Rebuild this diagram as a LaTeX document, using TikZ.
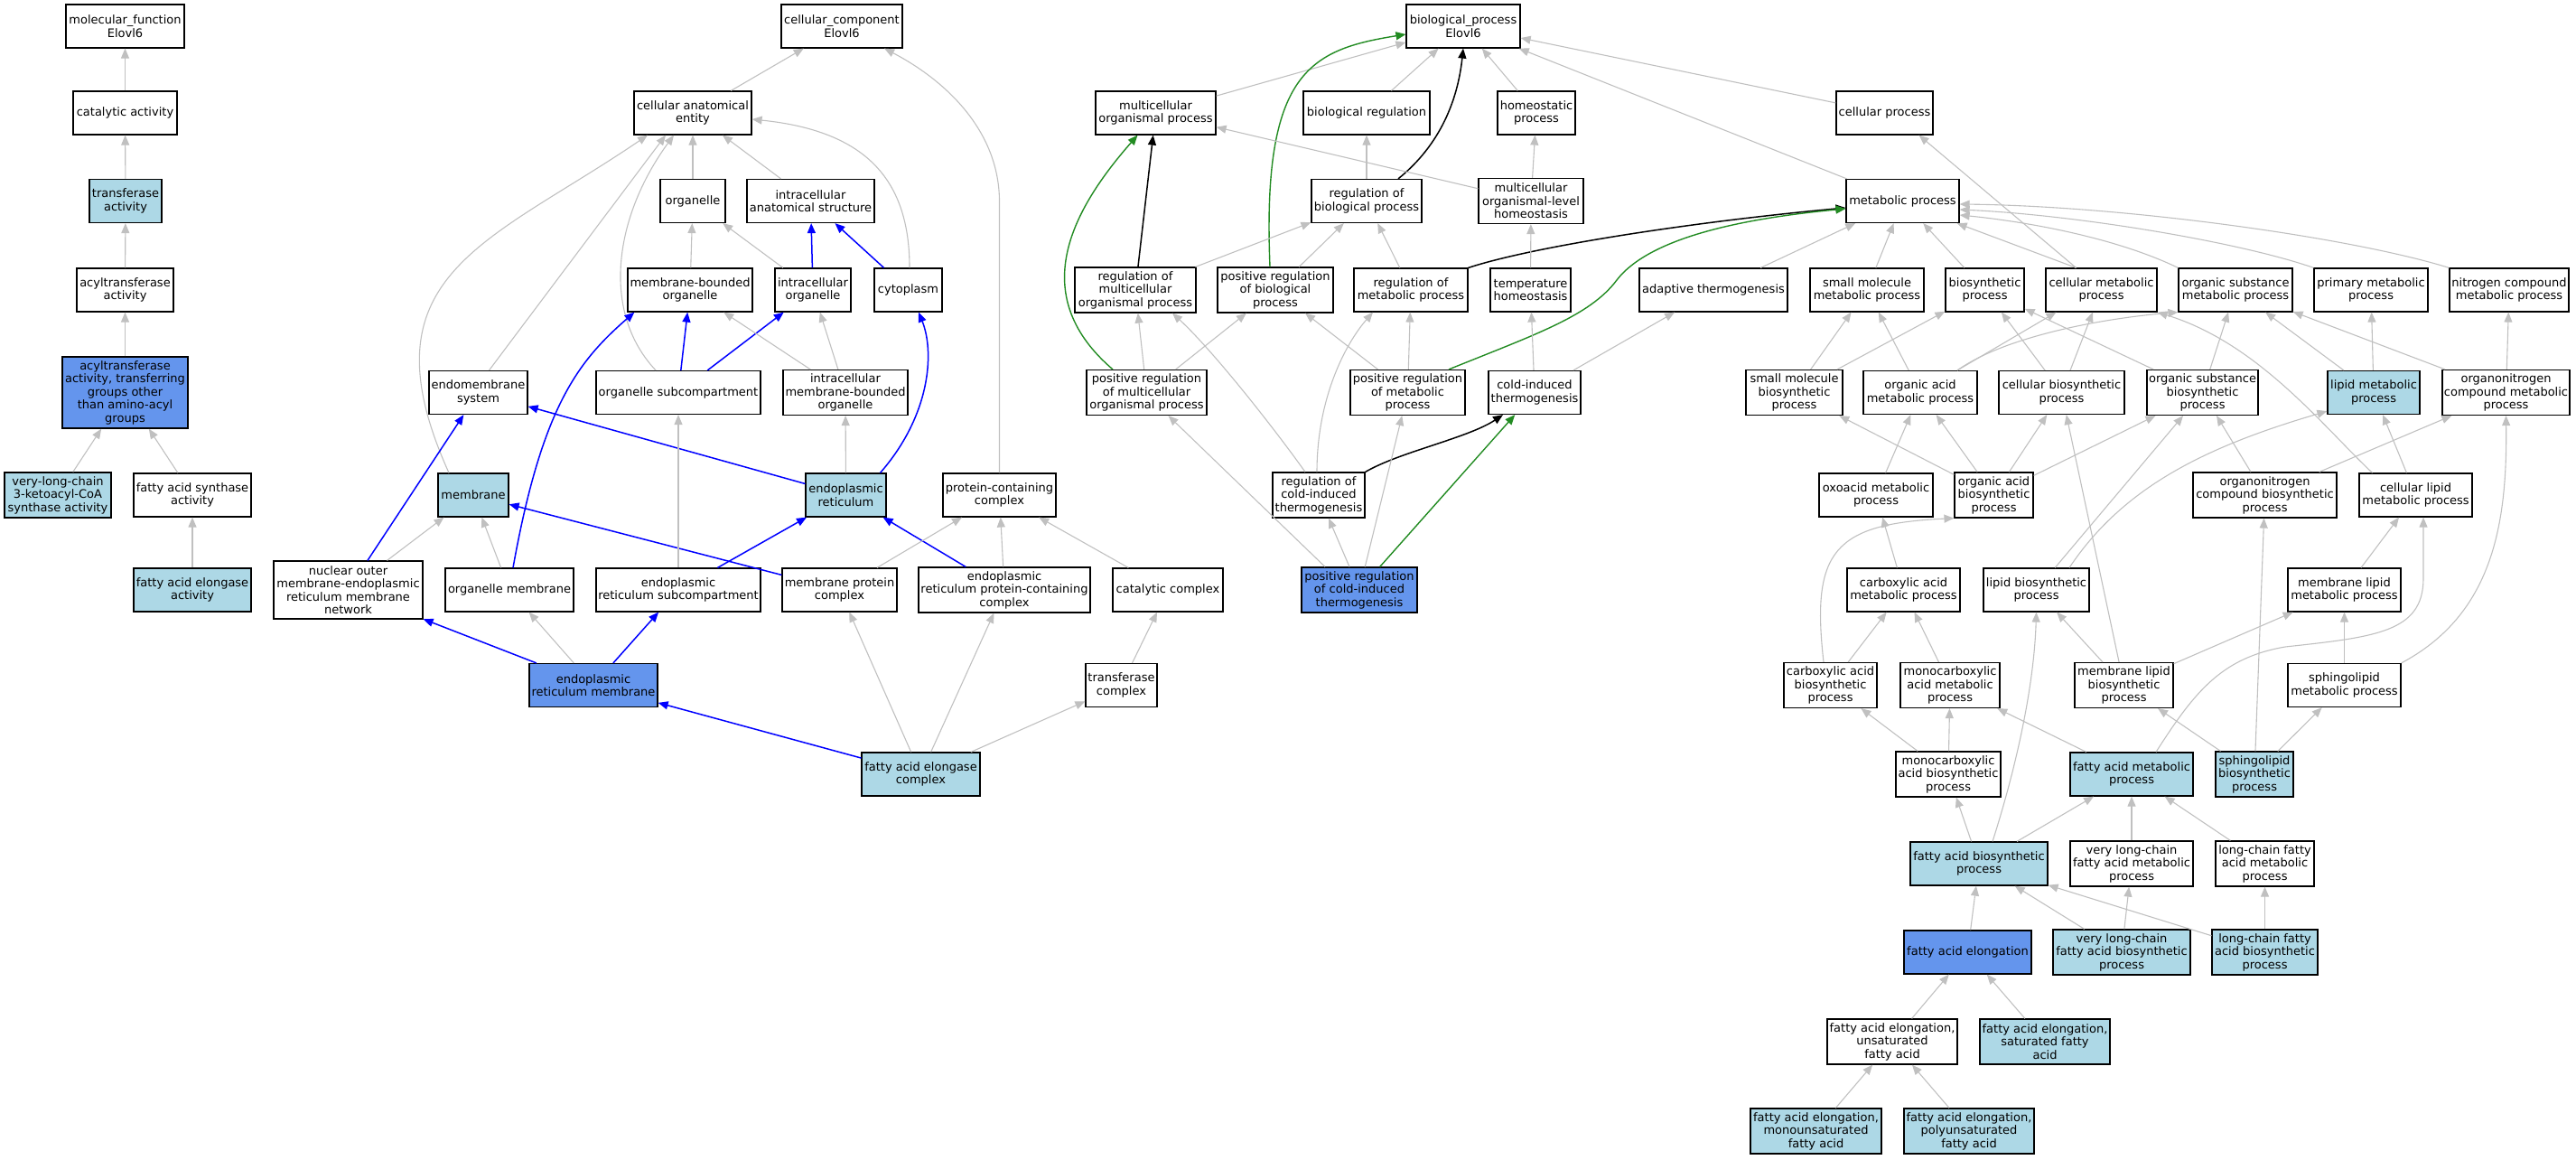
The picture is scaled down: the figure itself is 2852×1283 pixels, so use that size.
\documentclass[tikz,border=0pt]{standalone}
\usepackage{fontspec}
\setmainfont{DejaVu Sans}
\usetikzlibrary{arrows.meta}
\definecolor{golightblue}{HTML}{ADD8E6}
\definecolor{gocornflower}{HTML}{6495ED}
\definecolor{isagray}{HTML}{C0C0C0}
\definecolor{goforest}{HTML}{228B22}
\newcommand{\gofont}{\fontsize{13}{14.5}\selectfont}
\tikzset{
  term/.style={draw=black,line width=1.2pt,fill=white,rectangle,align=center,inner sep=0pt,minimum height=48pt,font=\gofont},
  hit/.style={term,fill=golightblue},
  seed/.style={term,fill=gocornflower},
  isa/.style={draw=isagray,line width=1.1pt,->},
  partof/.style={draw=blue,line width=1.5pt,->},
  regulates/.style={draw=black,line width=1.5pt,->},
  posreg/.style={draw=goforest,line width=1.4pt,->}
}

\begin{document}
\begin{tikzpicture}[x=1pt,y=-1pt,>={Triangle[length=11pt,width=9pt]}]
\useasboundingbox (0,0) rectangle (2852,1283);

\node[term,minimum width=131pt] (mf) at (138.5,29) {molecular\_function\\Elovl6};
\node[term,minimum width=115pt] (catact) at (138.5,125) {catalytic activity};
\node[hit,minimum width=80pt] (transact) at (139,222.5) {transferase\\activity};
\node[term,minimum width=107pt] (acylact) at (138.5,321) {acyltransferase\\activity};
\node[seed,minimum width=139pt,minimum height=79pt] (acylgrp) at (138.5,434.5) {acyltransferase\\activity, transferring\\groups other\\than amino-acyl\\groups};
\node[hit,minimum width=118pt,minimum height=50pt] (vlcsynth) at (64,548) {very-long-chain\\3-ketoacyl-CoA\\synthase activity};
\node[term,minimum width=130pt] (fasynth) at (213,548) {fatty acid synthase\\activity};
\node[hit,minimum width=130pt] (faelact) at (213,653) {fatty acid elongase\\activity};

\node[term,minimum width=134pt] (cc) at (932,29) {cellular\_component\\Elovl6};
\node[term,minimum width=130pt] (cae) at (767,125) {cellular anatomical\\entity};
\node[term,minimum width=72pt] (organelle) at (767,222.5) {organelle};
\node[term,minimum width=141pt] (ias) at (897.5,222.5) {intracellular\\anatomical structure};
\node[term,minimum width=138pt] (mbo) at (764,321) {membrane-bounded\\organelle};
\node[term,minimum width=84pt] (io) at (900,321) {intracellular\\organelle};
\node[term,minimum width=75pt] (cyto) at (1005.5,321) {cytoplasm};
\node[term,minimum width=109pt] (endo) at (529.5,434.5) {endomembrane\\system};
\node[term,minimum width=182pt] (osub) at (751,434.5) {organelle subcompartment};
\node[term,minimum width=138pt,minimum height=50pt] (imbo) at (936,434.5) {intracellular\\membrane-bounded\\organelle};
\node[hit,minimum width=78pt] (membrane) at (524,548) {membrane};
\node[hit,minimum width=89pt] (er) at (936.5,548) {endoplasmic\\reticulum};
\node[term,minimum width=125pt] (pcc) at (1106.5,548) {protein-containing\\complex};
\node[term,minimum width=165pt,minimum height=64pt] (nuc) at (385.5,653) {nuclear outer\\membrane-endoplasmic\\reticulum membrane\\network};
\node[term,minimum width=142pt] (orgmem) at (564,653) {organelle membrane};
\node[term,minimum width=182pt] (ersub) at (751,653) {endoplasmic\\reticulum subcompartment};
\node[term,minimum width=127pt] (mpc) at (929.5,653) {membrane protein\\complex};
\node[term,minimum width=190pt,minimum height=50pt] (erpcc) at (1112,653) {endoplasmic\\reticulum protein-containing\\complex};
\node[term,minimum width=122pt] (catcx) at (1293,653) {catalytic complex};
\node[seed,minimum width=142pt] (ermem) at (657,758.5) {endoplasmic\\reticulum membrane};
\node[term,minimum width=79pt] (trcx) at (1241.5,758.5) {transferase\\complex};
\node[hit,minimum width=131pt] (faecx) at (1019.5,857) {fatty acid elongase\\complex};

\node[term,minimum width=126pt] (bp) at (1620,29) {biological\_process\\Elovl6};
\node[term,minimum width=133pt] (mop) at (1279.5,125) {multicellular\\organismal process};
\node[term,minimum width=140pt] (breg) at (1513,125) {biological regulation};
\node[term,minimum width=86pt] (homeo) at (1701,125) {homeostatic\\process};
\node[term,minimum width=107pt] (cellproc) at (2086.5,125) {cellular process};
\node[term,minimum width=122pt] (rbp) at (1513,222.5) {regulation of\\biological process};
\node[term,minimum width=116pt,minimum height=50pt] (molh) at (1695,222.5) {multicellular\\organismal-level\\homeostasis};
\node[term,minimum width=125pt] (metab) at (2106.5,222.5) {metabolic process};
\node[term,minimum width=134pt,minimum height=50pt] (rmop) at (1257,321) {regulation of\\multicellular\\organismal process};
\node[term,minimum width=128pt,minimum height=50pt] (prbp) at (1412,321) {positive regulation\\of biological\\process};
\node[term,minimum width=126pt] (rmp) at (1562,321) {regulation of\\metabolic process};
\node[term,minimum width=89pt] (temph) at (1694.5,321) {temperature\\homeostasis};
\node[term,minimum width=164pt] (adapt) at (1897,321) {adaptive thermogenesis};
\node[term,minimum width=126pt] (smmp) at (2067,321) {small molecule\\metabolic process};
\node[term,minimum width=87pt] (biosyn) at (2197.5,321) {biosynthetic\\process};
\node[term,minimum width=123pt] (cellmet) at (2326.5,321) {cellular metabolic\\process};
\node[term,minimum width=126pt] (osmp) at (2475,321) {organic substance\\metabolic process};
\node[term,minimum width=126pt] (primp) at (2625,321) {primary metabolic\\process};
\node[term,minimum width=132pt] (ncmp) at (2778,321) {nitrogen compound\\metabolic process};
\node[term,minimum width=133pt,minimum height=50pt] (prmop) at (1269.5,434.5) {positive regulation\\of multicellular\\organismal process};
\node[term,minimum width=127pt,minimum height=50pt] (prmp) at (1558.5,434.5) {positive regulation\\of metabolic\\process};
\node[term,minimum width=102pt] (cit) at (1699,434.5) {cold-induced\\thermogenesis};
\node[term,minimum width=107pt,minimum height=50pt] (smbp) at (1986.5,434.5) {small molecule\\biosynthetic\\process};
\node[term,minimum width=126pt] (oamp) at (2126,434.5) {organic acid\\metabolic process};
\node[term,minimum width=139pt] (cbp) at (2282.5,434.5) {cellular biosynthetic\\process};
\node[term,minimum width=123pt,minimum height=50pt] (osbp) at (2438.5,434.5) {organic substance\\biosynthetic\\process};
\node[hit,minimum width=102pt] (lmp) at (2628,434.5) {lipid metabolic\\process};
\node[term,minimum width=141pt,minimum height=50pt] (oncmp) at (2774.5,434.5) {organonitrogen\\compound metabolic\\process};
\node[term,minimum width=102pt,minimum height=50pt] (rcit) at (1460,548) {regulation of\\cold-induced\\thermogenesis};
\node[term,minimum width=126pt] (oxmp) at (2077,548) {oxoacid metabolic\\process};
\node[term,minimum width=87pt,minimum height=50pt] (oabp) at (2207.5,548) {organic acid\\biosynthetic\\process};
\node[term,minimum width=159pt,minimum height=50pt] (oncbp) at (2507.5,548) {organonitrogen\\compound biosynthetic\\process};
\node[term,minimum width=125pt] (clmp) at (2674.5,548) {cellular lipid\\metabolic process};
\node[seed,minimum width=128pt,minimum height=50pt] (prcit) at (1505,653) {positive regulation\\of cold-induced\\thermogenesis};
\node[term,minimum width=125pt] (camp) at (2107.5,653) {carboxylic acid\\metabolic process};
\node[term,minimum width=117pt] (lbp) at (2254.5,653) {lipid biosynthetic\\process};
\node[term,minimum width=125pt] (mlmp) at (2595.5,653) {membrane lipid\\metabolic process};
\node[term,minimum width=103pt,minimum height=50pt] (cabp) at (2026.5,758.5) {carboxylic acid\\biosynthetic\\process};
\node[term,minimum width=110pt,minimum height=50pt] (mcamp) at (2159,758.5) {monocarboxylic\\acid metabolic\\process};
\node[term,minimum width=109pt,minimum height=50pt] (mlbp) at (2351.5,758.5) {membrane lipid\\biosynthetic\\process};
\node[term,minimum width=125pt] (splmp) at (2595.5,758.5) {sphingolipid\\metabolic process};
\node[term,minimum width=116pt,minimum height=50pt] (mcabp) at (2157,857) {monocarboxylic\\acid biosynthetic\\process};
\node[hit,minimum width=136pt] (famp) at (2360,857) {fatty acid metabolic\\process};
\node[hit,minimum width=86pt,minimum height=50pt] (splbp) at (2496,857) {sphingolipid\\biosynthetic\\process};
\node[hit,minimum width=152pt] (fabp) at (2191,956) {fatty acid biosynthetic\\process};
\node[term,minimum width=136pt,minimum height=50pt] (vlcfamp) at (2360,956) {very long-chain\\fatty acid metabolic\\process};
\node[term,minimum width=109pt,minimum height=50pt] (lcfamp) at (2507.5,956) {long-chain fatty\\acid metabolic\\process};
\node[seed,minimum width=141pt] (fae) at (2178.5,1054) {fatty acid elongation};
\node[hit,minimum width=152pt,minimum height=50pt] (vlcfabp) at (2349,1054) {very long-chain\\fatty acid biosynthetic\\process};
\node[hit,minimum width=117pt,minimum height=50pt] (lcfabp) at (2507.5,1054) {long-chain fatty\\acid biosynthetic\\process};
\node[term,minimum width=144pt,minimum height=50pt] (faeu) at (2095,1153) {fatty acid elongation,\\unsaturated\\fatty acid};
\node[hit,minimum width=144pt,minimum height=50pt] (faes) at (2264,1153) {fatty acid elongation,\\saturated fatty\\acid};
\node[hit,minimum width=145pt,minimum height=50pt] (faemu) at (2010.5,1252) {fatty acid elongation,\\monounsaturated\\fatty acid};
\node[hit,minimum width=144pt,minimum height=50pt] (faepu) at (2180,1252) {fatty acid elongation,\\polyunsaturated\\fatty acid};

\draw[isa] (catact) -- (mf);
\draw[isa] (transact) -- (catact);
\draw[isa] (acylact) -- (transact);
\draw[isa] (acylgrp) -- (acylact);
\draw[isa] (vlcsynth) -- (acylgrp);
\draw[isa] (fasynth) -- (acylgrp);
\draw[isa] (faelact) -- (fasynth);

\draw[isa] (cae) -- (cc);
\draw[isa] (pcc.north) -- ++(0,-300) .. controls +(0,-80) and (1045,88) .. (cc);
\draw[isa] (organelle) -- (cae);
\draw[isa] (ias) -- (cae);
\draw[isa] ([xshift=1.5pt]cyto.north) .. controls (1007,200) and (960,145) .. ([yshift=-7pt]cae.east);
\draw[isa] ([xshift=12pt]endo.north) -- ([xshift=-30pt]cae.south);
\draw[isa] ([xshift=-27pt]membrane.north) .. controls (398,304) and (540,270) .. ([xshift=-50pt]cae.south);
\draw[isa] ([xshift=-25pt]osub.north) .. controls (665,345) and (680,240) .. ([xshift=-21pt]cae.south);
\draw[isa] (mbo) -- (organelle);
\draw[isa] (io) -- (organelle);
\draw[partof] (io) -- (ias);
\draw[partof] (cyto) -- (ias);
\draw[partof] (osub) -- (mbo);
\draw[partof] (osub) -- (io);
\draw[isa] (imbo) -- (mbo);
\draw[isa] (imbo) -- (io);
\draw[partof] ([xshift=4pt]orgmem.north) .. controls (600,450) and (640,400) .. ([xshift=8pt]mbo.south west);
\draw[isa] (er) -- (imbo);
\draw[partof] ([xshift=38pt]er.north) .. controls (1030,460) and (1035,390) .. ([xshift=11.5pt]cyto.south);
\draw[partof] (er) -- (endo);
\draw[partof] (nuc) -- (endo);
\draw[isa] (nuc) -- (membrane);
\draw[isa] (orgmem) -- (membrane);
\draw[partof] (mpc) -- (membrane);
\draw[isa] (ersub) -- (osub);
\draw[partof] (ersub) -- (er);
\draw[partof] (erpcc) -- (er);
\draw[isa] (mpc) -- (pcc);
\draw[isa] (erpcc) -- (pcc);
\draw[isa] (catcx) -- (pcc);
\draw[partof] (ermem) -- (nuc);
\draw[isa] (ermem) -- (orgmem);
\draw[partof] (ermem) -- (ersub);
\draw[isa] (trcx) -- (catcx);
\draw[partof] (faecx) -- (ermem);
\draw[isa] (faecx) -- (mpc);
\draw[isa] (faecx) -- (erpcc);
\draw[isa] (faecx) -- (trcx);

\draw[isa] (mop) -- (bp);
\draw[isa] (breg) -- (bp);
\draw[isa] (homeo) -- (bp);
\draw[isa] (cellproc) -- (bp);
\draw[isa] (metab) -- (bp);
\draw[regulates] ([xshift=35pt]rbp.north) .. controls (1595,160) and (1614,110) .. (bp.south);
\draw[posreg] ([xshift=-6pt]prbp.north) .. controls (1397,80) and (1450,55) .. ([yshift=-9pt]bp.west);
\draw[isa] (rbp) -- (breg);
\draw[isa] (molh) -- (mop);
\draw[isa] (molh) -- (homeo);
\draw[regulates] (rmop) -- (mop);
\draw[posreg] ([xshift=-37.5pt]prmop.north) .. controls (1140,330) and (1180,240) .. ([xshift=-20pt]mop.south);
\draw[isa] (rmop) -- (rbp);
\draw[isa] (prbp) -- (rbp);
\draw[isa] (rmp) -- (rbp);
\draw[regulates] (rmp.north east) .. controls (1700,272) and (1880,245) .. ([yshift=-7.5pt]metab.west);
\draw[isa] (temph) -- (molh);
\draw[isa] (prmop) -- (rmop);
\draw[isa] (prmop) -- (prbp);
\draw[isa] (prmp) -- (prbp);
\draw[isa] (prmp) -- (rmp);
\draw[posreg] ([xshift=45.5pt]prmp.north) .. controls (1700,370) and (1760,350) .. (1790,310) .. controls (1830,258) and (1950,240) .. ([yshift=-8.5pt]metab.west);
\draw[isa] (cit) -- (temph);
\draw[isa] (cit) -- (adapt);
\draw[isa] ([xshift=-15pt]rcit.north) .. controls (1415,480) and (1345,390) .. ([xshift=41pt]rmop.south);
\draw[isa] ([xshift=-2pt]rcit.north) .. controls (1458,440) and (1490,380) .. ([xshift=-42pt]rmp.south);
\draw[regulates] (rcit.north east) .. controls (1550,500) and (1625,485) .. ([xshift=-35pt]cit.south);
\draw[isa] ([xshift=-38pt]prcit.north) -- ([xshift=24pt]prmop.south);
\draw[isa] (prcit) -- (rcit);
\draw[isa] (prcit) -- (prmp);
\draw[posreg] (prcit) -- (cit);

\draw[isa] (adapt) -- (metab);
\draw[isa] (smmp) -- (metab);
\draw[isa] (biosyn) -- (metab);
\draw[isa] ([xshift=-28pt]cellmet.north) -- ([xshift=-3pt]metab.south east);
\draw[isa] ([xshift=-28pt]cellmet.north) -- ([xshift=38pt]cellproc.south);
\draw[isa] (osmp.north west) .. controls (2340,262) and (2240,245) .. ([yshift=-15.5pt]metab.east);
\draw[isa] (primp.north west) .. controls (2480,268) and (2300,238) .. ([yshift=-9.5pt]metab.east);
\draw[isa] (ncmp.north west) .. controls (2600,262) and (2350,228) .. ([yshift=-3.5pt]metab.east);

\draw[isa] (smbp) -- (smmp);
\draw[isa] (smbp) -- (biosyn);
\draw[isa] (oamp) -- (smmp);
\draw[isa] ([xshift=41pt]oamp.north) -- ([xshift=-50pt]cellmet.south);
\draw[isa] ([xshift=41pt]oamp.north) .. controls (2220,372) and (2330,352) .. (osmp.south west);
\draw[isa] (cbp) -- (biosyn);
\draw[isa] (cbp) -- (cellmet);
\draw[isa] (osbp) -- (biosyn);
\draw[isa] (osbp) -- (osmp);
\draw[isa] (lmp) -- (osmp);
\draw[isa] (lmp) -- (primp);
\draw[isa] (oncmp) -- (osmp);
\draw[isa] (oncmp) -- (ncmp);

\draw[isa] (oxmp) -- (oamp);
\draw[isa] (oabp) -- (smbp);
\draw[isa] (oabp) -- (oamp);
\draw[isa] (oabp) -- (cbp);
\draw[isa] (oabp) -- (osbp);
\draw[isa] (lbp) -- (osbp);
\draw[isa] ([xshift=36.5pt]lbp.north) .. controls (2350,540) and (2440,495) .. ([yshift=4pt]lmp.south west);
\draw[isa] (mlbp) -- (cbp);
\draw[isa] (oncbp) -- (osbp);
\draw[isa] (oncbp) -- (oncmp);
\draw[isa] (clmp) -- (lmp);
\draw[isa] ([xshift=-48pt]clmp.north) .. controls (2570,470) and (2500,380) .. (cellmet.south east);

\draw[isa] (camp) -- (oxmp);
\draw[isa] (mlmp) -- (clmp);
\draw[isa] ([xshift=-7.5pt]cabp.north) .. controls (2005,610) and (2030,580) .. (oabp.south west);
\draw[isa] (cabp) -- (camp);
\draw[isa] (mcamp) -- (camp);
\draw[isa] (mlbp) -- (lbp);
\draw[isa] (mlbp) -- (mlmp);
\draw[isa] (splmp) -- (mlmp);
\draw[isa] (splmp.north east) .. controls (2760,680) and (2776,580) .. (oncmp.south);

\draw[isa] (mcabp) -- (cabp);
\draw[isa] (mcabp) -- (mcamp);
\draw[isa] (famp) -- (mcamp);
\draw[isa] ([xshift=27pt]famp.north) .. controls (2430,765) and (2460,728) .. (2530,716) .. controls (2630,705) and (2683,700) .. (2683,640) -- ([xshift=8.5pt]clmp.south);
\draw[isa] (splbp) -- (mlbp);
\draw[isa] (splbp) -- (splmp);
\draw[isa] (splbp) -- (oncbp);

\draw[isa] (fabp) -- (mcabp);
\draw[isa] (fabp) -- (famp);
\draw[isa] ([xshift=15pt]fabp.north) .. controls (2232,850) and (2252,760) .. (lbp.south);
\draw[isa] (vlcfamp) -- (famp);
\draw[isa] (lcfamp) -- (famp);
\draw[isa] (fae) -- (fabp);
\draw[isa] (vlcfabp) -- (fabp);
\draw[isa] (vlcfabp) -- (vlcfamp);
\draw[isa] (lcfabp) -- (fabp);
\draw[isa] (lcfabp) -- (lcfamp);
\draw[isa] (faeu) -- (fae);
\draw[isa] (faes) -- (fae);
\draw[isa] (faemu) -- (faeu);
\draw[isa] (faepu) -- (faeu);
\end{tikzpicture}
\end{document}
